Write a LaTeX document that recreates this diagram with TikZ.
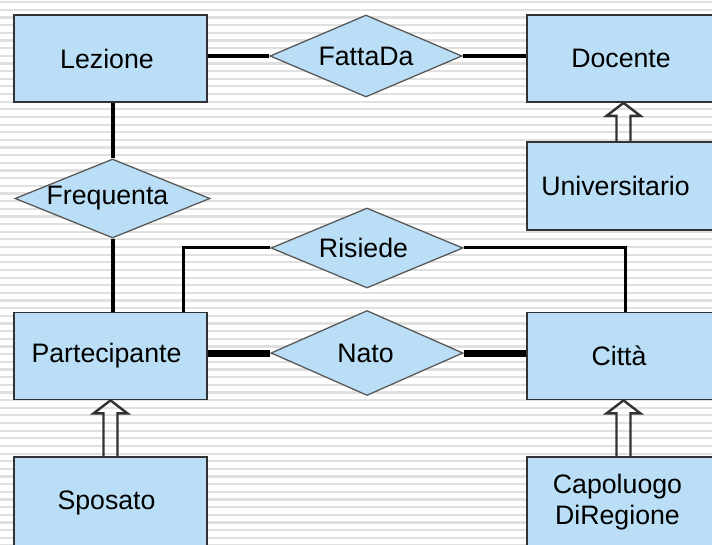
\documentclass[tikz,border=0pt]{standalone}
\usepackage{fontspec}
\setmainfont{Liberation Sans}
\usetikzlibrary{shapes.geometric}
\definecolor{erfill}{RGB}{185,222,246}
\definecolor{erline}{RGB}{50,50,50}
\definecolor{stripe}{RGB}{224,224,224}
\tikzset{
  entity/.style={draw=erline, line width=1.8pt, fill=erfill, minimum width=193pt,
    minimum height=87pt, inner sep=0pt, font=\fontsize{26.7}{31}\selectfont, align=center},
  relation/.style={diamond, draw=black!65, line width=1.3pt, fill=erfill, aspect=2.3,
    minimum width=192pt, minimum height=82pt, inner sep=0pt, font=\fontsize{26.7}{31}\selectfont},
  link/.style={draw=black, line width=4pt},
  linkthin/.style={draw=black, line width=3pt},
  linkthick/.style={draw=black, line width=7pt},
  isa/.style={draw=erline, line width=2.4pt, line join=miter}
}
% text moved left of the shape centre by #1/2
\newcommand\lft[1]{\hspace*{-#1pt}}
% generalisation arrow: #1 child entity, #2 parent entity
\newcommand\isalink[2]{%
  \draw[isa] ([xshift=-7pt]#1.north) -- ([xshift=-7pt,yshift=-13pt]#2.south)
    -- ([xshift=-17pt,yshift=-13pt]#2.south) -- (#2.south)
    -- ([xshift=17pt,yshift=-13pt]#2.south) -- ([xshift=7pt,yshift=-13pt]#2.south)
    -- ([xshift=7pt]#1.north);
}
\begin{document}
\begin{tikzpicture}[x=1pt, y=-1pt]
  \clip (0,0) rectangle (712,545);
  % striped background
  \fill[white] (0,0) rectangle (712,545);
  \foreach \k in {0,...,71} {
    \draw[stripe, line width=2.2pt] (0,{2.25+7.65*\k}) -- (712,{2.25+7.65*\k});
  }

  % relationships
  \node[relation] (fat) at (366,56) {FattaDa};
  \node[relation, minimum width=195pt, minimum height=79pt] (freq) at (112.5,198.5) {\lft{10}Frequenta};
  \node[relation, minimum height=80pt] (ris) at (367,248) {\lft{7}Risiede};
  \node[relation, minimum height=85pt] (nato) at (367,353) {\lft{3}Nato};

  % entities
  \node[entity] (lez)  at (110.5,58.5)  {\lft{7}Lezione};
  \node[entity] (doc)  at (623.5,58.5)  {\lft{5}Docente};
  \node[entity, minimum height=88pt] (univ) at (623.5,186) {\lft{16}Universitario};
  \node[entity] (part) at (110.5,356)   {\lft{8}Partecipante};
  \node[entity] (citta) at (623.5,356)  {\lft{9}Città};
  \node[entity, minimum height=91pt] (spo)  at (110.5,502.5) {\lft{8}Sposato};
  \node[entity, minimum height=91pt] (cap)  at (623.5,502.5) {\lft{12}Capoluogo\\\lft{12}DiRegione};

  % connectors
  \draw[link] (fat.west -| lez.east) -- (fat.west);
  \draw[link] (fat.east) -- (fat.east -| doc.west);
  \draw[link] (freq.north |- lez.south) -- (freq.north);
  \draw[link] (freq.south) -- (freq.south |- part.north);
  \draw[linkthin] ([xshift=72.5pt]part.north) |- (ris.west);
  \draw[linkthin] (ris.east) -| ([xshift=1.5pt]citta.north);
  \draw[linkthick] (nato.west -| part.east) -- (nato.west);
  \draw[linkthick] (nato.east) -- (nato.east -| citta.west);

  % generalisations
  \isalink{univ}{doc}
  \isalink{spo}{part}
  \isalink{cap}{citta}
\end{tikzpicture}
\end{document}
